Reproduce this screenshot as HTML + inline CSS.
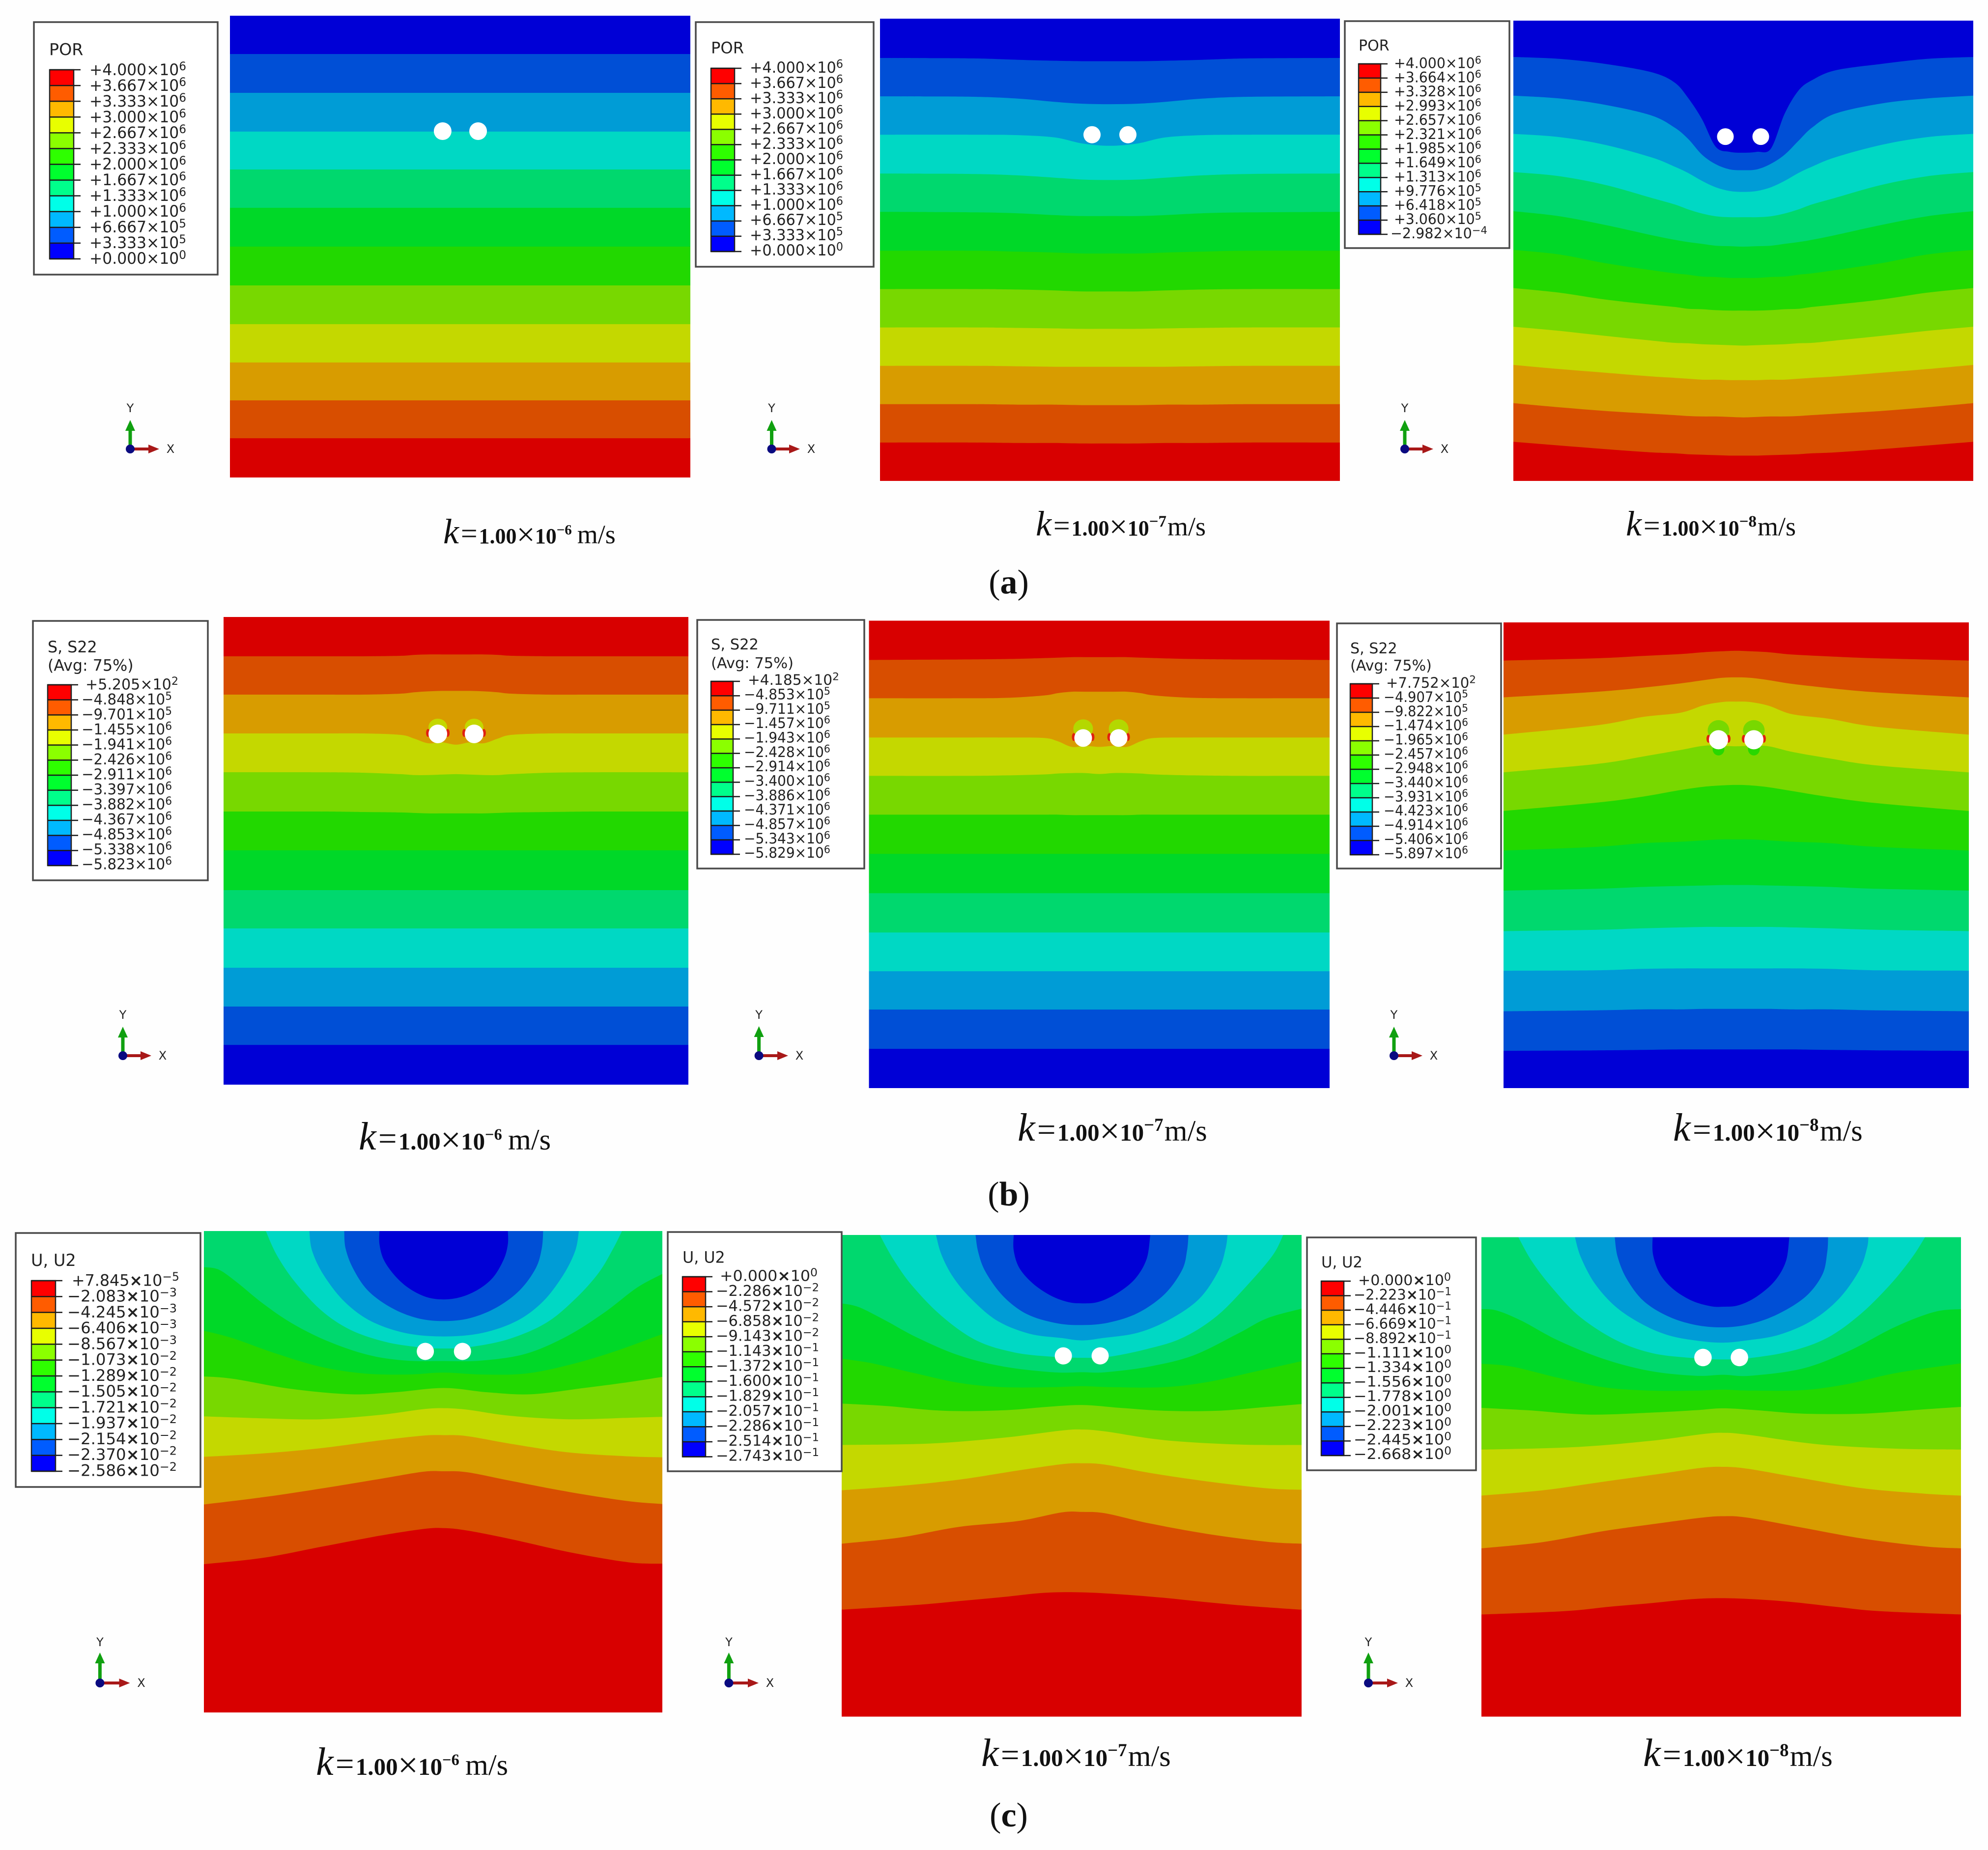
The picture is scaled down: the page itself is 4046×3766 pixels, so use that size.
<!DOCTYPE html>
<html lang="en">
<head>
<meta charset="utf-8">
<title>Contours of pore pressure, stress and displacement</title>
<style>
html,body{margin:0;padding:0;background:#fefefe;}
svg{display:block;}
.cap{font-family:"Liberation Serif",serif;fill:#111;}
.k{font-style:italic;font-size:72px;}
.eq{font-style:italic;font-size:60px;}
.num{font-weight:bold;font-size:44px;}
.tm{font-size:66px;}
.ten{font-weight:bold;font-size:44px;}
.sup{font-weight:bold;font-size:29px;}
.unit{font-size:54px;}
.plab{font-family:"Liberation Serif",serif;font-size:70px;fill:#111;}
.plab .b{font-weight:bold;}
.leg{font-family:"DejaVu Sans",sans-serif;fill:#222;}
.tri{font-family:"DejaVu Sans",sans-serif;font-size:24px;fill:#222;text-anchor:middle;}
</style>
</head>
<body>
<svg id="fig" xmlns="http://www.w3.org/2000/svg" width="4046" height="3766" viewBox="0 0 4046 3766">
<rect width="4046" height="3766" fill="#fefefe"/>
<g id="panels"></g>

<g class="cap" transform="translate(902,1106)"><text><tspan class="k">k</tspan><tspan class="eq">=</tspan><tspan class="num">1.00</tspan><tspan class="tm" dy="4">×</tspan><tspan class="ten" dy="-4">10</tspan><tspan class="sup" dy="-18">−6</tspan><tspan class="unit" dy="18" dx="11">m/s</tspan></text></g>
<g class="cap" transform="translate(2108,1090)"><text><tspan class="k">k</tspan><tspan class="eq">=</tspan><tspan class="num">1.00</tspan><tspan class="tm" dy="4">×</tspan><tspan class="ten" dy="-4">10</tspan><tspan class="sup" dy="-18" style="font-size:33px">−7</tspan><tspan class="unit" dy="18" dx="2">m/s</tspan></text></g>
<g class="cap" transform="translate(3309,1090)"><text><tspan class="k">k</tspan><tspan class="eq">=</tspan><tspan class="num">1.00</tspan><tspan class="tm" dy="4">×</tspan><tspan class="ten" dy="-4">10</tspan><tspan class="sup" dy="-18" style="font-size:33px">−8</tspan><tspan class="unit" dy="18" dx="2">m/s</tspan></text></g>
<g class="cap" transform="translate(730,2340) scale(1.115)"><text><tspan class="k">k</tspan><tspan class="eq">=</tspan><tspan class="num">1.00</tspan><tspan class="tm" dy="4">×</tspan><tspan class="ten" dy="-4">10</tspan><tspan class="sup" dy="-18">−6</tspan><tspan class="unit" dy="18" dx="11">m/s</tspan></text></g>
<g class="cap" transform="translate(2071,2322) scale(1.115)"><text><tspan class="k">k</tspan><tspan class="eq">=</tspan><tspan class="num">1.00</tspan><tspan class="tm" dy="4">×</tspan><tspan class="ten" dy="-4">10</tspan><tspan class="sup" dy="-18" style="font-size:33px">−7</tspan><tspan class="unit" dy="18" dx="2">m/s</tspan></text></g>
<g class="cap" transform="translate(3405,2322) scale(1.115)"><text><tspan class="k">k</tspan><tspan class="eq">=</tspan><tspan class="num">1.00</tspan><tspan class="tm" dy="4">×</tspan><tspan class="ten" dy="-4">10</tspan><tspan class="sup" dy="-18" style="font-size:33px">−8</tspan><tspan class="unit" dy="18" dx="2">m/s</tspan></text></g>
<g class="cap" transform="translate(643,3613) scale(1.115)"><text><tspan class="k">k</tspan><tspan class="eq">=</tspan><tspan class="num">1.00</tspan><tspan class="tm" dy="4">×</tspan><tspan class="ten" dy="-4">10</tspan><tspan class="sup" dy="-18">−6</tspan><tspan class="unit" dy="18" dx="11">m/s</tspan></text></g>
<g class="cap" transform="translate(1997,3595) scale(1.115)"><text><tspan class="k">k</tspan><tspan class="eq">=</tspan><tspan class="num">1.00</tspan><tspan class="tm" dy="4">×</tspan><tspan class="ten" dy="-4">10</tspan><tspan class="sup" dy="-18" style="font-size:33px">−7</tspan><tspan class="unit" dy="18" dx="2">m/s</tspan></text></g>
<g class="cap" transform="translate(3344,3595) scale(1.115)"><text><tspan class="k">k</tspan><tspan class="eq">=</tspan><tspan class="num">1.00</tspan><tspan class="tm" dy="4">×</tspan><tspan class="ten" dy="-4">10</tspan><tspan class="sup" dy="-18" style="font-size:33px">−8</tspan><tspan class="unit" dy="18" dx="2">m/s</tspan></text></g>

<text class="plab" x="2053" y="1208" text-anchor="middle">(<tspan class="b">a</tspan>)</text>
<text class="plab" x="2053" y="2454" text-anchor="middle">(<tspan class="b">b</tspan>)</text>
<text class="plab" x="2053" y="3718" text-anchor="middle">(<tspan class="b">c</tspan>)</text>
</svg>

<script>
// ---------- colour scales ----------
const contourColors = ['#0000d6','#004fd6','#009cd6','#00d8c4','#00d86e','#00d828','#22d800','#78d800','#c4d800','#d89c00','#d84e00','#d80000'];
const legendColors = ['#ff0000','#ff5c00','#ffb900','#e8ff00','#8bff00','#2eff00','#00ff2e','#00ff8b','#00ffe8','#00b9ff','#005cff','#0000ff'];

// ---------- legend tick labels (top to bottom) ----------
const porLabels = ['+4.000×10^6','+3.667×10^6','+3.333×10^6','+3.000×10^6','+2.667×10^6','+2.333×10^6','+2.000×10^6','+1.667×10^6','+1.333×10^6','+1.000×10^6','+6.667×10^5','+3.333×10^5','+0.000×10^0'];
const a3Labels = ['+4.000×10^6','+3.664×10^6','+3.328×10^6','+2.993×10^6','+2.657×10^6','+2.321×10^6','+1.985×10^6','+1.649×10^6','+1.313×10^6','+9.776×10^5','+6.418×10^5','+3.060×10^5','−2.982×10^−4'];
const b1Labels = ['+5.205×10^2','−4.848×10^5','−9.701×10^5','−1.455×10^6','−1.941×10^6','−2.426×10^6','−2.911×10^6','−3.397×10^6','−3.882×10^6','−4.367×10^6','−4.853×10^6','−5.338×10^6','−5.823×10^6'];
const b2Labels = ['+4.185×10^2','−4.853×10^5','−9.711×10^5','−1.457×10^6','−1.943×10^6','−2.428×10^6','−2.914×10^6','−3.400×10^6','−3.886×10^6','−4.371×10^6','−4.857×10^6','−5.343×10^6','−5.829×10^6'];
const b3Labels = ['+7.752×10^2','−4.907×10^5','−9.822×10^5','−1.474×10^6','−1.965×10^6','−2.457×10^6','−2.948×10^6','−3.440×10^6','−3.931×10^6','−4.423×10^6','−4.914×10^6','−5.406×10^6','−5.897×10^6'];
const c1Labels = ['+7.845×10^−5','−2.083×10^−3','−4.245×10^−3','−6.406×10^−3','−8.567×10^−3','−1.073×10^−2','−1.289×10^−2','−1.505×10^−2','−1.721×10^−2','−1.937×10^−2','−2.154×10^−2','−2.370×10^−2','−2.586×10^−2'];
const c2Labels = ['+0.000×10^0','−2.286×10^−2','−4.572×10^−2','−6.858×10^−2','−9.143×10^−2','−1.143×10^−1','−1.372×10^−1','−1.600×10^−1','−1.829×10^−1','−2.057×10^−1','−2.286×10^−1','−2.514×10^−1','−2.743×10^−1'];
const c3Labels = ['+0.000×10^0','−2.223×10^−1','−4.446×10^−1','−6.669×10^−1','−8.892×10^−1','−1.111×10^0','−1.334×10^0','−1.556×10^0','−1.778×10^0','−2.001×10^0','−2.223×10^0','−2.445×10^0','−2.668×10^0'];

// ---------- contour values: width % along the section, depth % below the top edge ----------
const a1X = [0,100];
const a1Depth = [[8.3,8.3],[16.7,16.7],[25.1,25.1],[33.3,33.3],[41.6,41.6],[50,50],[58.4,58.4],[66.8,66.8],[75.1,75.1],[83.3,83.3],[91.5,91.5]];
const a1HoleX = [46.2,53.9];
const a1HoleDepth = 25;

const a2X = [0,20,30,38,44,50,56,62,70,80,100];
const a2Depth = [
[8.5,8.6,8.9,9.1,9.2,9.2,9.2,9.1,8.9,8.6,8.5],
[16.8,16.9,17.3,18.0,18.4,18.5,18.4,18.0,17.3,16.9,16.8],
[25.1,25.1,25.2,25.7,27.0,27.5,27.0,25.7,25.2,25.1,25.1],
[33.5,33.6,33.9,34.4,34.8,34.9,34.8,34.4,33.9,33.6,33.5],
[41.8,41.9,42.1,42.5,42.7,42.7,42.7,42.5,42.1,41.9,41.8],
[50.2,50.2,50.4,50.6,50.8,50.8,50.8,50.6,50.4,50.2,50.2],
[58.5,58.5,58.6,58.8,59.0,59.0,59.0,58.8,58.6,58.5,58.5],
[66.8,66.8,66.9,67.0,67.1,67.1,67.1,67.0,66.9,66.8,66.8],
[75.1,75.1,75.2,75.3,75.3,75.3,75.3,75.3,75.2,75.1,75.1],
[83.4,83.4,83.5,83.5,83.6,83.6,83.6,83.5,83.5,83.4,83.4],
[91.7,91.7,91.8,91.8,91.9,91.9,91.9,91.8,91.8,91.7,91.7]];
const a2HoleX = [46.1,53.9];
const a2HoleDepth = 25.1;

const a3X = [0,10,20,30,35,38,41,44,47,50,53,56,59,62,65,70,80,90,100];
const a3Depth = [
[7.9,8.3,9.4,11.2,13.4,16.8,21.4,27.4,28.5,28.7,28.5,27.8,20.2,15.2,12.9,10.8,9.4,8.3,7.9],
[16.3,16.9,18.3,20.6,23.2,25.7,29.1,31.2,32.3,32.5,32.3,31.1,29.1,26.1,23.2,20.2,18.0,16.9,16.3],
[24.6,25.3,27.0,29.7,31.7,33.1,34.8,36.2,37.0,37.2,37.0,36.2,34.8,33.1,31.7,29.7,27.0,25.3,24.6],
[32.9,33.8,35.7,38.5,39.9,41.0,41.9,42.5,42.7,42.7,42.7,42.5,41.9,41.0,39.9,38.5,35.7,33.8,32.9],
[41.4,42.5,44.4,46.6,47.6,48.1,48.5,48.9,49.0,49.1,49.0,48.9,48.5,48.1,47.6,46.6,44.4,42.5,41.4],
[49.8,50.8,52.7,54.2,54.9,55.2,55.6,55.7,55.9,55.9,55.9,55.7,55.6,55.2,54.9,54.2,52.7,50.8,49.8],
[58.1,59.1,60.6,61.7,62.2,62.6,62.7,62.9,63.0,63.0,63.0,62.9,62.7,62.6,62.2,61.7,60.6,59.1,58.1],
[66.5,67.4,68.5,69.5,70.0,70.1,70.3,70.4,70.5,70.6,70.5,70.4,70.3,70.1,70.0,69.5,68.5,67.4,66.5],
[74.8,75.7,76.5,77.3,77.6,77.8,78.0,78.0,78.1,78.1,78.1,78.0,78.0,77.8,77.6,77.3,76.5,75.7,74.8],
[83.1,84.0,84.8,85.4,85.7,85.9,86.0,86.0,86.1,86.2,86.1,86.0,86.0,85.9,85.7,85.4,84.8,84.0,83.1],
[91.5,92.3,93.1,93.8,94.0,94.2,94.3,94.4,94.5,94.5,94.5,94.4,94.3,94.2,94.0,93.8,93.1,92.3,91.5]];
const a3HoleX = [46.1,53.8];
const a3HoleDepth = 25.2;

const b1X = [0,20,30,38,41,44,47,50,53,56,59,62,70,80,100];
const b1Depth = [
[8.4,8.4,8.4,8.3,8.1,8.0,8.0,8.0,8.0,8.0,8.1,8.3,8.4,8.4,8.4],
[16.6,16.6,16.6,16.4,16.1,15.9,15.8,15.8,15.8,15.9,16.1,16.4,16.6,16.6,16.6],
[24.9,24.9,24.9,25.2,26.0,27.0,26.8,27.3,26.8,27.0,26.0,25.2,24.9,24.9,24.9],
[33.2,33.2,33.3,33.6,33.8,33.8,33.7,33.6,33.7,33.8,33.8,33.6,33.3,33.2,33.2],
[41.6,41.6,41.7,41.8,41.9,42.0,42.0,42.0,42.0,42.0,41.9,41.8,41.7,41.6,41.6],
[49.9,49.9,49.9,49.9,49.9,49.9,49.9,49.9,49.9,49.9,49.9,49.9,49.9,49.9,49.9],
[58.4,58.4,58.4,58.4,58.4,58.4,58.4,58.4,58.4,58.4,58.4,58.4,58.4,58.4,58.4],
[66.6,66.6,66.6,66.6,66.6,66.6,66.6,66.6,66.6,66.6,66.6,66.6,66.6,66.6,66.6],
[75.0,75.0,75.0,75.0,75.0,75.0,75.0,75.0,75.0,75.0,75.0,75.0,75.0,75.0,75.0],
[83.3,83.3,83.3,83.3,83.3,83.3,83.3,83.3,83.3,83.3,83.3,83.3,83.3,83.3,83.3],
[91.5,91.5,91.5,91.5,91.5,91.5,91.5,91.5,91.5,91.5,91.5,91.5,91.5,91.5,91.5]];
const b1HoleX = [46.1,53.9];
const b1HoleDepth = 25;

const b2X = [0,20,30,38,41,44,47,50,53,56,59,62,70,80,100];
const b2Depth = [
[8.4,8.3,8.2,8.0,7.9,7.8,7.8,7.8,7.8,7.8,7.9,8.0,8.2,8.3,8.4],
[16.6,16.6,16.5,16.0,15.5,15.2,15.2,15.2,15.2,15.2,15.5,16.0,16.5,16.6,16.6],
[25.0,25.0,25.0,25.1,25.8,27.0,26.8,27.0,26.8,27.0,25.8,25.1,25.0,25.0,25.0],
[33.2,33.2,33.1,32.9,32.7,32.6,32.6,32.8,32.6,32.6,32.7,32.9,33.1,33.2,33.2],
[41.5,41.5,41.5,41.5,41.5,41.6,41.6,41.6,41.6,41.6,41.5,41.5,41.5,41.5,41.5],
[49.9,49.9,49.9,49.9,49.9,49.9,49.9,49.9,49.9,49.9,49.9,49.9,49.9,49.9,49.9],
[58.3,58.3,58.3,58.3,58.3,58.3,58.3,58.3,58.3,58.3,58.3,58.3,58.3,58.3,58.3],
[66.7,66.7,66.7,66.7,66.7,66.7,66.7,66.7,66.7,66.7,66.7,66.7,66.7,66.7,66.7],
[75.0,75.0,75.0,75.0,75.0,75.0,75.0,75.0,75.0,75.0,75.0,75.0,75.0,75.0,75.0],
[83.2,83.2,83.2,83.2,83.2,83.2,83.2,83.2,83.2,83.2,83.2,83.2,83.2,83.2,83.2],
[91.6,91.6,91.6,91.6,91.6,91.6,91.6,91.6,91.6,91.6,91.6,91.6,91.6,91.6,91.6]];
const b2HoleX = [46.5,54.2];
const b2HoleDepth = 25.1;

const b3X = [0,20,30,38,43,47,50,53,57,62,70,80,100];
const b3Depth = [
[8.2,7.7,7.2,6.8,6.4,6.2,6.1,6.2,6.4,6.9,7.3,7.7,8.2],
[16.1,14.9,14.0,13.1,12.4,11.9,11.8,11.9,12.4,13.2,14.1,15.0,16.1],
[24.1,22.1,20.3,19.4,17.8,17.1,17.0,17.1,17.9,19.7,20.7,22.4,24.1],
[32.2,30.4,28.8,27.4,26.5,26.5,26.6,26.5,26.6,27.8,29.2,30.7,32.2],
[40.5,38.7,37.4,36.0,35.3,35.0,34.9,35.0,35.4,36.2,37.5,38.8,40.5],
[49.0,48.2,47.4,47.1,46.8,46.6,46.6,46.6,46.8,47.1,47.4,48.2,49.0],
[57.6,57.2,56.8,56.6,56.5,56.4,56.4,56.4,56.5,56.6,56.8,57.2,57.6],
[66.3,66.0,65.7,65.5,65.4,65.4,65.4,65.4,65.4,65.5,65.7,66.0,66.3],
[74.8,74.7,74.4,74.3,74.3,74.3,74.3,74.3,74.3,74.3,74.4,74.7,74.8],
[83.5,83.3,83.1,83.1,83.0,83.0,83.0,83.0,83.0,83.1,83.1,83.3,83.5],
[92.0,91.9,91.8,91.7,91.7,91.7,91.7,91.7,91.7,91.7,91.8,91.9,92.0]];
const b3HoleX = [46.2,53.8];
const b3HoleDepth = 25.2;

const c1X = [
[38.3,38.3,39.2,41.5,44.6,48.5,52.3,56.1,59.9,63.1,65.4,66.3,66.3],
[30.6,30.9,32.5,35.7,40.8,46.6,52.3,58.0,63.8,68.9,72.4,73.7,74.0],
[23.0,23.6,26.1,30.6,36.4,44.0,52.3,60.6,68.2,74.0,78.4,81.0,81.8],
[13.5,15.9,19.8,25.5,31.9,39.5,46.6,52.3,58.0,66.3,74.6,81.0,86.1,89.3,91.2],
[0,3.2,7.0,12.8,19.1,26.8,35.7,44.0,52.3,60.6,70.2,79.1,87.4,94.4,100],
[0,6.4,15.9,25.5,35.1,44.6,52.3,60.6,70.2,79.7,89.3,100],
[0,6.4,19.1,31.9,41.5,52.3,61.9,71.4,82.9,92.5,100],
[0,12.8,25.5,38.3,47.8,52.3,57.4,67,79.7,92.5,100],
[0,12.8,25.5,38.3,47.8,52.3,57.4,67,79.7,92.5,100],
[0,12.8,25.5,38.3,47.8,52.3,57.4,67,79.7,92.5,100],
[0,12.8,25.5,38.3,47.8,52.3,57.4,67,79.7,92.5,100]];
const c1Depth = [
[0,2.7,5.9,9.1,11.8,13.7,14.2,13.7,12.1,9.6,5.9,2.7,0],
[0,3.6,7.7,12.3,15.9,18.1,18.7,18.1,15.9,12.3,7.7,3.6,0],
[0,4.1,9.1,14.6,18.7,21.2,21.9,21.2,18.7,14.6,9.1,4.1,0],
[0,5.0,10.5,16.4,20.5,23.0,24.1,24.4,24.1,22.5,19.1,14.1,8.7,3.6,0],
[7.5,8.0,10.5,15.0,19.1,22.8,25.7,26.9,27.0,26.9,25.5,21.9,16.9,11.8,8.9],
[20.7,22.3,25.5,28.2,29.6,29.8,29.4,29.8,29.6,27.8,25.1,21.4],
[30.2,30.7,32.8,33.9,33.5,32.6,33.5,33.9,32.6,31.4,30.3],
[38.5,38.9,39.1,38.2,37,36.8,37.1,38.4,39.1,38.8,38.6],
[46.9,46.2,45.1,43.5,42.5,42.4,42.6,44.2,46,46.8,47],
[56.8,55.3,53.5,51.5,50,49.9,50.1,51.9,54.2,56.1,56.7],
[69.2,67.9,65.6,63.3,61.9,61.7,62.2,64,66.7,68.8,69.1]];
const c1HoleX = [48.3,56.4];
const c1HoleDepth = 25;

const c2X = [
[37.4,37.4,38.6,41.5,45.3,49.1,52.3,55.8,59.9,63.8,66.3,67.1],
[29.1,29.7,31.3,35.1,40.2,46.6,52.3,58,64.4,70.2,74,75.1,75.4],
[20.5,21.7,24.2,28.1,33.8,40.8,47.8,52.3,56.8,64.4,71.4,77.8,82,83.5,83.9],
[8.3,11.2,15.3,21.7,29.3,37.6,46.2,52.3,58,66.3,74,81.6,88.6,93.8,96],
[0,3.8,9.6,16.6,25.5,35.1,45.9,52.3,57.4,67,76.5,86.1,92.5,100],
[0,6.4,15.9,25.5,35.1,45.9,52.3,58.7,70.2,79.7,89.3,100],
[0,9.6,22.3,35.1,44.6,52.3,60.6,70.2,81.6,92.5,100],
[0,19.1,35.1,47.8,52.3,57.4,70.2,86.1,100],
[0,12.8,25.5,38.3,47.8,52.3,57.4,67,79.7,92.5,100],
[0,12.8,25.5,38.3,47.8,52.3,57.4,67,79.7,92.5,100],
[0,16.4,25.6,34.8,44,52.2,60.5,69.7,78.9,88.1,100]];
const c2Depth = [
[0,3.2,6.8,10,12.5,13.9,14.2,13.9,12.1,9.1,5,0],
[0,3.6,7.7,12.7,16.4,18.3,18.7,18.2,16.2,12.3,7.3,3.2,0],
[0,4.1,8.7,13.2,17.8,20.5,21.4,21.9,21.4,20.3,17.5,13.2,7.3,2.7,0],
[0,5,10.5,16.8,21.9,24.4,25.3,25.5,25.3,23.7,21.4,16.8,10,4.1,0],
[14.2,15,17.8,21.4,25,27.3,28.5,28.5,28.5,27.3,25,20.5,17.3,15.3],
[25.7,26.6,28.7,30.7,31.6,31.6,31.4,31.6,31.6,30.5,28.5,26.2],
[35,35.5,36.5,36.4,35.7,35.3,35.9,36.5,36.5,35.7,35.1],
[43.6,43.3,42.1,40.6,40.4,40.8,42.6,43.5,43.6],
[53,52.1,50.8,48.9,47.6,47.4,47.7,49.4,51.2,52.6,52.9],
[64.1,62.8,60.6,59.4,57.6,57.5,57.8,59.9,62.1,63.7,64.1],
[77.8,76.8,76,75.2,74.3,74.2,74.6,75.3,76.2,77,77.8]];
const c2HoleX = [48.2,56.2];
const c2HoleDepth = 25.1;

const c3X = [
[35.7,35.8,37.3,40.2,44,47.8,50.4,53.6,57.4,61.2,63.5,64.2],
[27.8,28.4,30.3,33.8,38.9,44.6,50.4,56.1,61.9,67.6,71.1,72.1,72.3],
[19.5,20.7,23.6,28.1,33.8,39.5,45.9,50.4,54.8,61.9,68.9,74.6,78.8,80.4,80.7],
[7.7,10.5,14.7,20.4,28.1,35.7,44,50.4,56.1,64.4,72.1,79.1,85.5,89.9,92.5],
[0,3.2,8.3,15.9,25.5,35.1,44.6,50.4,56.1,67,76.5,86.1,94.4,100],
[0,6.4,15.9,25.5,35.1,44.6,50.4,56.1,67,76.5,86.1,100],
[0,9.6,22.3,35.1,44.6,50.4,57.4,67,79.7,92.5,100],
[0,19.1,35.1,45.9,50.4,55.5,70.2,86.1,100],
[0,12.8,25.5,38.3,45.9,50.4,55.5,67,79.7,92.5,100],
[0,12.8,25.5,38.3,45.9,50.4,55.5,67,79.7,92.5,100],
[0,17.3,26.5,35.6,43.8,50,56.6,64.8,73.9,83,100]];
const c3Depth = [
[0,3.7,7.8,11,13.3,14.4,14.5,14.2,12.4,9.1,5,0],
[0,4.1,8.7,13.3,16.5,18.3,18.8,18.1,16,12.4,7.8,3.2,0],
[0,4.1,9.6,14.6,18.3,20.6,21.7,22,21.6,20.4,17.4,12.8,6.9,2.3,0],
[0,5,10.5,16.5,21.5,24.2,25.2,25.5,25.2,23.8,21,16,9.6,4.1,0],
[15,15.3,17.4,21.5,25.4,27.9,28.9,28.7,28.9,27.4,23.8,18.8,15.6,15],
[26.4,27,29.3,31.3,32,32,31.8,32,31.9,30.6,28.4,26.3],
[35.6,36.1,37,36.6,36.1,35.7,36.1,36.8,36.8,35.9,35.4],
[44.3,43.8,42.5,41.1,40.8,41.2,43.2,44.1,44.3],
[53.9,52.8,51,49.2,48.1,47.9,48.3,50.3,52.4,53.5,53.9],
[64.9,63.6,61.3,59.5,58.5,58.2,58.5,60.6,62.9,64.5,64.9],
[78.7,78,77.1,76.3,75.5,75.3,75.5,76.1,77.1,78,78.7]];
const c3HoleX = [46.2,53.8];
const c3HoleDepth = 25.1;

// ---------- drawing ----------
const NS = 'http://www.w3.org/2000/svg';
function mk(tag, attrs, parent) {
  const el = document.createElementNS(NS, tag);
  for (const k in attrs) el.setAttribute(k, attrs[k]);
  parent.appendChild(el);
  return el;
}
function linear(d0, d1, r0, r1) { return v => r0 + (v - d0) / (d1 - d0) * (r1 - r0); }

function contourPath(xs, ys, sx, sy) {
  const pts = xs.map((x, i) => [sx(x), sy(ys[i])]);
  let d = 'M' + pts[0][0].toFixed(1) + ' ' + pts[0][1].toFixed(1);
  for (let i = 0; i < pts.length - 1; i++) {
    const p0 = pts[Math.max(0, i - 1)], p1 = pts[i], p2 = pts[i + 1], p3 = pts[Math.min(pts.length - 1, i + 2)];
    const c1x = p1[0] + (p2[0] - p0[0]) / 6, c1y = p1[1] + (p2[1] - p0[1]) / 6;
    const c2x = p2[0] - (p3[0] - p1[0]) / 6, c2y = p2[1] - (p3[1] - p1[1]) / 6;
    d += 'C' + c1x.toFixed(1) + ' ' + c1y.toFixed(1) + ' ' + c2x.toFixed(1) + ' ' + c2y.toFixed(1) + ' ' + p2[0].toFixed(1) + ' ' + p2[1].toFixed(1);
  }
  const top = sy(0) - 2;
  d += 'L' + pts[pts.length - 1][0].toFixed(1) + ' ' + top + 'L' + pts[0][0].toFixed(1) + ' ' + top + 'Z';
  return d;
}

function drawPanel(p, root) {
  const g = mk('g', {}, root);
  
  
  const [l, t, r, b] = p.rect;
  const sx = linear(0, 100, l, r), sy = linear(0, 100, t, b);
  const clip = mk('clipPath', {id: 'clip-' + p.id}, g);
  mk('rect', {x: l, y: t, width: r - l, height: b - t}, clip);
  const field = mk('g', {'clip-path': 'url(#clip-' + p.id + ')'}, g);
  
  
  const colors = p.flip ? contourColors.slice().reverse() : contourColors;
  const base = mk('rect', {x: l, y: t, width: r - l, height: b - t, fill: colors[11]}, field);
  
  
  for (let i = p.depth.length - 1; i >= 0; i--) {
    const xs = Array.isArray(p.x[0]) ? p.x[i] : p.x;
    const band = mk('path', {d: contourPath(xs, p.depth[i], sx, sy), fill: colors[i]}, field);
    
    
  }
  p.holeX.forEach((hx, i) => {
    const cx = sx(hx), cy = sy(p.holeDepth);
    if (p.halo) {
      const h = p.halo;
      if (h.drop) {
        const drop = mk('ellipse', {cx: cx, cy: cy + h.drop[0], rx: h.drop[1], ry: h.drop[2], fill: h.drop[3]}, g);
        
        
      }
      const cap = mk('ellipse', {cx: cx, cy: cy - h.cap[0], rx: h.cap[1], ry: h.cap[2], fill: h.cap[3]}, g);
      
      
      [-1, 1].forEach(side => {
        const spot = mk('ellipse', {cx: cx + side * (p.r + 1), cy: cy - 2, rx: 4, ry: 8, fill: '#e02010'}, g);
        
        
      });
    }
    const hole = mk('circle', {cx: cx, cy: cy, r: p.r, fill: '#ffffff'}, g);
    
    
  });
  drawLegend(p, g);
  drawTriad(p.triad, g);
}

function drawLegend(p, parent) {
  const L = p.legend;
  const g = mk('g', {}, parent);
  
  
  const [bl, bt, br, bb] = L.box;
  const box = mk('rect', {x: bl, y: bt, width: br - bl, height: bb - bt, fill: '#ffffff', stroke: '#4a4a4a', 'stroke-width': 3.5}, g);
  
  
  const spacing = (L.labelY[1] - L.labelY[0]) / 12;
  const tfs = spacing * 1.04, fs = spacing * 1.0;
  L.titles.forEach(tt => {
    const t = mk('text', {x: L.titleX, y: tt[1] + tfs * 0.36, 'font-size': tfs.toFixed(1), class: 'leg'}, g);
    t.textContent = tt[0];
    
    
  });
  const [x0, x1] = L.barX, [y0, y1] = L.barY;
  const h = (y1 - y0) / 12;
  legendColors.forEach((c, i) => {
    const cell = mk('rect', {x: x0, y: y0 + i * h, width: x1 - x0, height: h + 0.5, fill: c}, g);
    
    
  });
  const frame = mk('rect', {x: x0, y: y0, width: x1 - x0, height: y1 - y0, fill: 'none', stroke: '#222', 'stroke-width': 2.5}, g);
  
  
  L.labels.forEach((s, i) => {
    const tick = mk('line', {x1: x0, x2: x1 + 14, y1: y0 + i * h, y2: y0 + i * h, stroke: '#1a1a1a', 'stroke-width': 2.5}, g);
    
    
    const yc = L.labelY[0] + i * spacing;
    let x = L.x, w = L.w;
    if (i === 0 && L.first) { x = L.first[0]; w = L.first[1]; }
    if (i === 12 && L.last) { x = L.last[0]; w = L.last[1]; }
    const parts = s.split('^');
    const t = mk('text', {x: x, y: (yc + fs * 0.38).toFixed(1), 'font-size': fs.toFixed(1), class: 'leg', textLength: w, lengthAdjust: 'spacingAndGlyphs'}, g);
    
    
    const m = parts[0].split('×');
    const a = mk('tspan', {}, t); a.textContent = m[0];
    const tm = mk('tspan', {'font-weight': L.boldTimes ? 'bold' : 'normal'}, t); tm.textContent = '×';
    const ten = mk('tspan', {}, t); ten.textContent = m[1];
    const sup = mk('tspan', {dy: (-fs * 0.32).toFixed(1), 'font-size': (fs * 0.74).toFixed(1)}, t); sup.textContent = parts[1];
  });
}

function drawTriad(tr, parent) {
  const [ox, oy, yTop, xEnd] = tr;
  const g = mk('g', {}, parent);
  
  
  const yShaft = mk('path', {d: 'M' + (ox - 3.5) + ' ' + oy + 'V' + (yTop + 22) + 'H' + (ox - 10) + 'L' + ox + ' ' + yTop + 'L' + (ox + 10) + ' ' + (yTop + 22) + 'H' + (ox + 3.5) + 'V' + oy + 'Z', fill: '#10a010'}, g);
  
  
  const xShaft = mk('path', {d: 'M' + ox + ' ' + (oy - 3) + 'H' + (xEnd - 22) + 'V' + (oy - 9) + 'L' + xEnd + ' ' + oy + 'L' + (xEnd - 22) + ' ' + (oy + 9) + 'V' + (oy + 3) + 'H' + ox + 'Z', fill: '#a81818'}, g);
  
  
  const dot = mk('circle', {cx: ox, cy: oy, r: 9, fill: '#0a0a80'}, g);
  
  
  const yl = mk('text', {x: ox, y: oy - 75, class: 'tri'}, g);
  yl.textContent = 'Y';
  
  
  const xl = mk('text', {x: xEnd + 23, y: oy + 8, class: 'tri'}, g);
  xl.textContent = 'X';
  
  
}

const panels = [
 {id:'a1', rect:[468,32,1405,972], x:a1X, depth:a1Depth, holeX:a1HoleX, holeDepth:a1HoleDepth, r:18, triad:[265,914,855,324],
  legend:{box:[69,45,443,559], titles:[['POR',100]], titleX:100, barX:[101,150], barY:[142,527], labelY:[141,525], x:182, w:197, labels:porLabels}},
 {id:'a2', rect:[1791,38,2727,979], x:a2X, depth:a2Depth, holeX:a2HoleX, holeDepth:a2HoleDepth, r:17.5, triad:[1570.5,914,855,1628],
  legend:{box:[1416,45,1778,543], titles:[['POR',97]], titleX:1447, barX:[1447,1495], barY:[139,512], labelY:[136,508], x:1526, w:190, labels:porLabels}},
 {id:'a3', rect:[3080,42,4016,979], x:a3X, depth:a3Depth, holeX:a3HoleX, holeDepth:a3HoleDepth, r:17, triad:[2859,914,855,2917],
  legend:{box:[2737,43,3072,505], titles:[['POR',92]], titleX:2765, barX:[2765,2810], barY:[130,477], labelY:[127.5,474], x:2837, w:178, last:[2830,197], labels:a3Labels}},
 {id:'b1', flip:true, rect:[455,1256,1401,2208], x:b1X, depth:b1Depth, holeX:b1HoleX, holeDepth:b1HoleDepth, r:19, triad:[250,2149,2090,308],
  halo:{cap:[14,19,17,'#c4d800']},
  legend:{box:[67,1264,423,1792], titles:[['S, S22',1316.5],['(Avg: 75%)',1354]], titleX:97, barX:[97,145], barY:[1394,1762], labelY:[1392,1758], x:166, w:184, first:[174,189], labels:b1Labels}},
 {id:'b2', flip:true, rect:[1768.5,1263.5,2706,2215], x:b2X, depth:b2Depth, holeX:b2HoleX, holeDepth:b2HoleDepth, r:18, triad:[1544.6,2149,2089,1604],
  halo:{cap:[19,20,19,'#b4d800']},
  legend:{box:[1419,1262,1759,1768], titles:[['S, S22',1311],['(Avg: 75%)',1349]], titleX:1447, barX:[1447,1492], barY:[1387,1739], labelY:[1383,1735], x:1514, w:176, first:[1522,186], labels:b2Labels}},
 {id:'b3', flip:true, rect:[3060,1267,4007,2215], x:b3X, depth:b3Depth, holeX:b3HoleX, holeDepth:b3HoleDepth, r:19.5, triad:[2837,2149,2090,2895],
  halo:{cap:[19,22,21,'#78d800'], drop:[19,12,13,'#28d800']},
  legend:{box:[2721,1269,3055,1768], titles:[['S, S22',1319],['(Avg: 75%)',1354]], titleX:2748, barX:[2748,2793], barY:[1392,1740], labelY:[1389,1736], x:2816, w:172, first:[2821,183], labels:b3Labels}},
 {id:'c1', rect:[415,2506,1348,3486], x:c1X, depth:c1Depth, holeX:c1HoleX, holeDepth:c1HoleDepth, r:17.5, triad:[203.4,3426,3364,264.5],
  legend:{box:[32,2510,408,3027], titles:[['U, U2',2565]], titleX:63, boldTimes:true, barX:[64,113], barY:[2607,2995], labelY:[2605,2992], x:137, w:223, first:[146,219], labels:c1Labels}},
 {id:'c2', rect:[1713,2514,2649,3494.5], x:c2X, depth:c2Depth, holeX:c2HoleX, holeDepth:c2HoleDepth, r:17.5, triad:[1483.4,3426,3364,1544],
  legend:{box:[1359,2508,1713,2995], titles:[['U, U2',2559]], titleX:1389, boldTimes:true, barX:[1389,1436], barY:[2599,2965.5], labelY:[2596,2962], x:1457, w:210, first:[1465,199], labels:c2Labels}},
 {id:'c3', rect:[3015,2518.5,3991,3494.5], x:c3X, depth:c3Depth, holeX:c3HoleX, holeDepth:c3HoleDepth, r:17.8, triad:[2785,3426,3364,2845],
  legend:{box:[2660,2519,3004,2993], titles:[['U, U2',2569]], titleX:2689, boldTimes:true, barX:[2689,2735], barY:[2608,2963], labelY:[2605,2959], x:2755, w:199, first:[2764,189], labels:c3Labels}}
];

const root = document.getElementById('panels');
panels.forEach(p => drawPanel(p, root));
</script>
</body>
</html>
